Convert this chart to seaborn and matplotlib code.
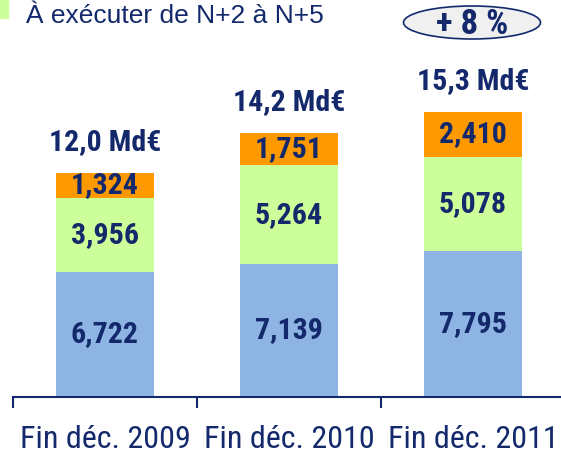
# plot.py
# Stacked bars: remaining amounts at end of Dec 2009 / 2010 / 2011

import matplotlib
matplotlib.use("Agg")
import matplotlib.pyplot as plt
from matplotlib.patches import Ellipse, Rectangle
import pandas as pd
import seaborn as sns

# data (Md€)
periods = ["Fin déc. 2009", "Fin déc. 2010", "Fin déc. 2011"]
bottom_part = [6.722, 7.139, 7.795]   # blue
middle_part = [3.956, 5.264, 5.078]   # green
top_part = [1.324, 1.751, 2.410]      # orange
legend_label = "À exécuter de N+2 à N+5"
growth_label = "+ 8 %"

BLUE = "#8EB4E3"
GREEN = "#CCFF99"
ORANGE = "#FF9900"
NAVY = "#13296B"

sns.set_style("white")
plt.rcParams["font.family"] = ["Liberation Sans", "DejaVu Sans"]
NARROW = ["Roboto Condensed", "Liberation Sans", "DejaVu Sans"]

df = pd.DataFrame({
    "period": periods,
    "blue": bottom_part,
    "green": middle_part,
    "orange": top_part,
})
df["lvl1"] = df["blue"]
df["lvl2"] = df["blue"] + df["green"]
df["total"] = df["lvl2"] + df["orange"]

fig = plt.figure(figsize=(5.61, 4.53), dpi=100)
ax = fig.add_axes([13 / 561, 56 / 453, 552 / 561, 336 / 453])

# draw back to front: total (orange), blue+green (green), blue
w = 0.535
sns.barplot(data=df, x="period", y="total", color=ORANGE, saturation=1,
            width=w, ax=ax, linewidth=0)
sns.barplot(data=df, x="period", y="lvl2", color=GREEN, saturation=1,
            width=w, ax=ax, linewidth=0)
sns.barplot(data=df, x="period", y="lvl1", color=BLUE, saturation=1,
            width=w, ax=ax, linewidth=0)

ax.set_xlim(-0.5, 2.5)
ax.set_ylim(0, 18)
ax.set_xlabel("")
ax.set_ylabel("")
ax.set_yticks([])

# segment labels
for i, row in df.iterrows():
    segs = [(0, row["blue"]), (row["lvl1"], row["green"]), (row["lvl2"], row["orange"])]
    for base, val in segs:
        ax.text(i, base + val / 2, f"{val:.3f}".replace(".", ","),
                ha="center", va="center", color=NAVY, fontsize=21.5,
                fontweight="bold", family=NARROW)
    ax.annotate(f"{row['total']:.1f}".replace(".", ",") + " Md€",
                xy=(i, row["total"]), xytext=(0, 12), textcoords="offset points",
                ha="center", va="bottom", color=NAVY, fontsize=21.5,
                fontweight="bold", family=NARROW)

# x axis: labels at bar centres, tick marks at category boundaries
for s in ["top", "right", "left"]:
    ax.spines[s].set_visible(False)
ax.spines["bottom"].set_color(NAVY)
ax.spines["bottom"].set_linewidth(1.5)
ax.set_xticks(range(len(periods)))
ax.set_xticklabels(periods, fontsize=23, color=NAVY, family=NARROW)
ax.tick_params(axis="x", which="major", length=0, pad=20)
ax.set_xticks([-0.5, 0.5, 1.5], minor=True)
ax.tick_params(axis="x", which="minor", length=8, width=1.5, color=NAVY,
               direction="out", bottom=True)

# partial legend at the top-left corner
fig.patches.append(Rectangle((0, 1 - 18 / 453), 8 / 561, 18 / 453,
                             transform=fig.transFigure, color=GREEN))
fig.text(26 / 561, 1 - 23 / 453, legend_label, fontsize=19, color=NAVY,
         ha="left", va="baseline")

# growth badge
fig.patches.append(Ellipse((472 / 561, 1 - 22.5 / 453), 137 / 561, 33 / 453,
                           transform=fig.transFigure, facecolor="#F0F0F0",
                           edgecolor=NAVY, linewidth=1.2))
fig.text(472 / 561, 1 - 24 / 453, growth_label, fontsize=25, color=NAVY,
         fontweight="bold", family=NARROW, ha="center", va="center")

fig.savefig("out.png", dpi=100)
